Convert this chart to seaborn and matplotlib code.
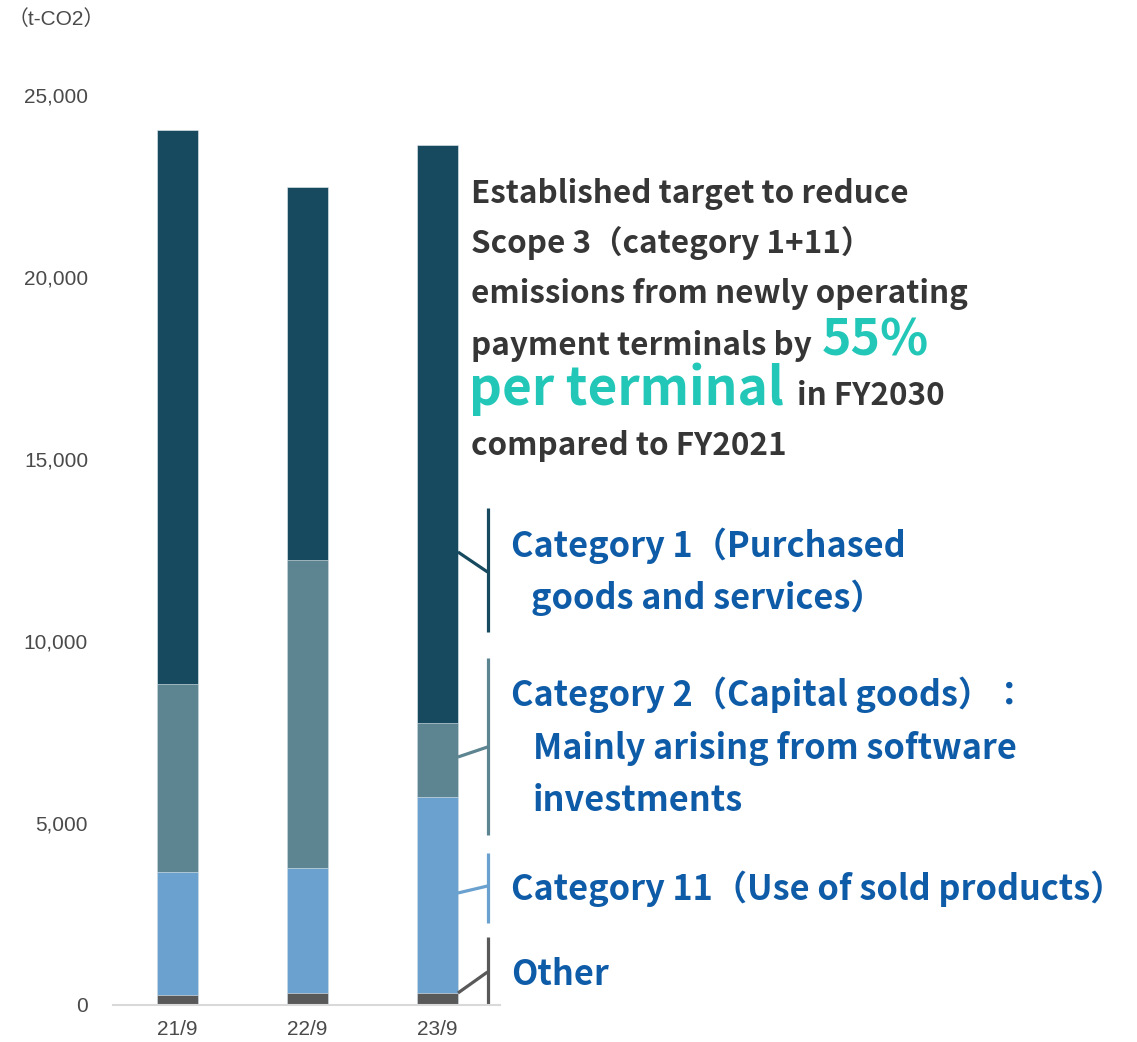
import matplotlib
matplotlib.use("Agg")
import matplotlib.pyplot as plt
import seaborn as sns
import pandas as pd

# ---- data -------------------------------------------------------------
years = ["21/9", "22/9", "23/9"]
other = [280, 340, 320]
cat11 = [3365, 3430, 5395]
cat2 = [5175, 8455, 2040]
cat1 = [15220, 10245, 15875]
y_ticks = [0, 5000, 10000, 15000, 20000, 25000]
unit_label = "（t-CO2）"

# ---- style ------------------------------------------------------------
sns.set_theme(style="white")
plt.rcParams["font.family"] = ["Liberation Sans", "Noto Sans CJK JP", "DejaVu Sans"]

W, H = 1137, 1042
fig = plt.figure(figsize=(W / 100, H / 100), dpi=100)
ax = fig.add_axes([113 / W, 37 / H, 387 / W, 910 / H])

layers = ["Other", "Category 11", "Category 2", "Category 1"]
colors = {
    "Other": "#595959",
    "Category 11": "#6AA1CE",
    "Category 2": "#5D8591",
    "Category 1": "#174A5F",
}
df = pd.DataFrame({"year": years, "Other": other, "Category 11": cat11,
                   "Category 2": cat2, "Category 1": cat1})
cum = df[layers].cumsum(axis=1)

# stacked bars: draw cumulative totals from the top layer down
for name in reversed(layers):
    sns.barplot(x=df["year"], y=cum[name], color=colors[name], saturation=1,
                width=0.315, errorbar=None, ax=ax, edgecolor="#E8EEF2",
                linewidth=0.4)

ax.set_ylim(0, 25000)
ax.set_xlim(-0.496, 2.481)
ax.set_yticks(y_ticks)
ax.set_yticklabels([f"{v:,}" for v in y_ticks])
ax.set_xlabel("")
ax.set_ylabel("")
for s in ["left", "top", "right"]:
    ax.spines[s].set_visible(False)
ax.spines["bottom"].set_color("#D9D9D9")
ax.spines["bottom"].set_linewidth(1.5)
ax.tick_params(axis="y", length=0, pad=18, labelsize=15, labelcolor="#4A4A4A")
ax.tick_params(axis="x", length=0, pad=11, labelsize=15, labelcolor="#4A4A4A")

fig.text(8 / W, 1 - 25 / H, unit_label, fontsize=15, color="#4A4A4A",
         va="baseline", ha="left")

# ---- callout brackets -------------------------------------------------
bar_edge = 2 + 0.315 / 2
bracket_x = 2.385
brackets = [
    ("Category 1", 13654, 10247, 12445, 11896),
    ("Category 2", 9533, 4670, 6813, 7088),
    ("Category 11", 4176, 2253, 3077, 3269),
    ("Other", 1868, 0, 330, 907),
]
for name, top, bot, y0, y1 in brackets:
    c = colors[name]
    ax.plot([bracket_x, bracket_x], [bot, top], color=c, lw=2.3,
            clip_on=False, solid_capstyle="butt")
    ax.plot([bar_edge, bracket_x], [y0, y1], color=c, lw=2.3,
            clip_on=False, solid_capstyle="butt")

# ---- text -------------------------------------------------------------
jp = ["Noto Sans CJK JP", "DejaVu Sans"]
dark = "#363636"
teal = "#22C7B8"
blue = "#0E5BA8"


def put(x, y, s, **kw):
    fig.text(x / W, 1 - y / H, s, va="baseline", ha="left", family=jp, **kw)


dk = dict(fontsize=22.6, fontweight="bold", color=dark)
put(471, 203, "Established target to reduce", **dk)
put(471, 253, "Scope 3（category 1+11）", **dk)
put(471, 303, "emissions from newly operating", **dk)
put(471, 355, "payment terminals by", **dk)
put(822, 355, "55%", fontsize=36, color=teal, fontweight="bold")
put(469, 405, "per terminal", fontsize=37, color=teal, fontweight="bold")
put(797, 405, "in FY2030", **dk)
put(471, 455, "compared to FY2021", **dk)

bl = dict(fontsize=24.7, fontweight="bold", color=blue)
put(511, 557, "Category 1（Purchased", **bl)
put(531, 609, "goods and services）", **bl)
put(511, 706, "Category 2（Capital goods）：", **bl)
put(533, 759, "Mainly arising from software", **bl)
put(533, 811, "investments", **bl)
put(511, 900, "Category 11（Use of sold products）", **bl)
put(511, 985, "Other", **bl)

fig.savefig("out.png", dpi=100)
